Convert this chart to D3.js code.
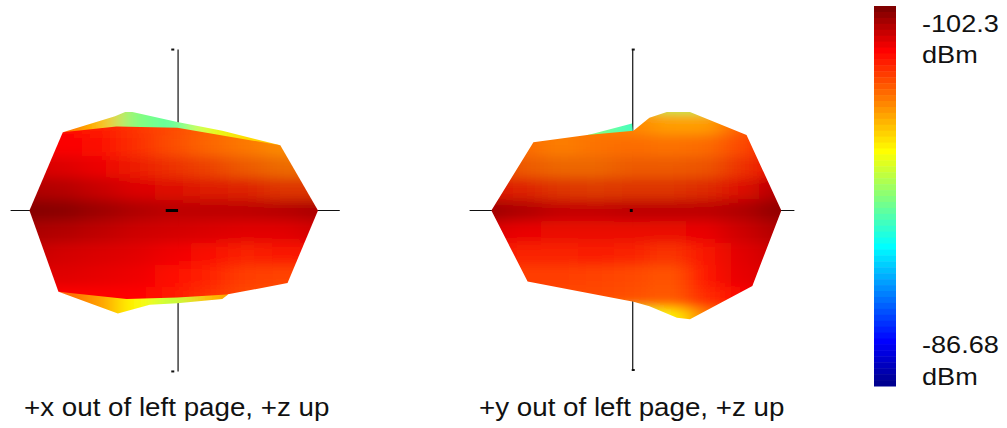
<!DOCTYPE html>
<meta charset="utf-8">
<style>
    html, body { margin: 0; background: #fff; }
    svg { display: block; }
    text { font-family: "Liberation Sans", Arial, sans-serif; fill: #111; }
    .axisline { stroke: #111; stroke-width: 1.2; }
</style>
<body>
<script src="https://d3js.org/d3.v7.min.js"></script>
<script>
    // grid positions of the surface samples, in plot units
    var gridU = [-100, -75, -50, -25, 0, 25, 50, 75, 100];
    var gridV = [75, 60, 45, 30, 15, 0, -15, -30, -45, -60, -75];
    var lobeU = [-75, -50, -25, 0, 25, 50, 75];

    // received power (dBm)
    var leftValues = [
        [-100.4, -100.4, -100.1, -99.7, -99.4, -99, -98.6, -98.3, -98.3],
        [-100.4, -100.4, -100.1, -99.7, -99.4, -99, -98.6, -98.3, -98.3],
        [-100.6, -100.6, -100.3, -99.8, -99.3, -98.9, -98.6, -98.3, -98.3],
        [-100.9, -100.8, -100.5, -100.1, -99.7, -99.4, -99, -98.7, -98.7],
        [-101.3, -101.2, -100.9, -100.6, -100.3, -100.1, -99.9, -99.6, -99.6],
        [-101.9, -101.8, -101.5, -101.2, -101, -101, -101, -101.1, -101.3],
        [-101.5, -101.4, -101.2, -101, -100.9, -100.8, -100.7, -100.7, -100.9],
        [-101.3, -101.1, -101, -100.9, -100.7, -100.4, -100, -100.2, -100.4],
        [-101, -101, -100.9, -100.8, -100.4, -100, -99.6, -99.5, -99.5],
        [-100.6, -100.6, -100.6, -100.5, -100.2, -99.8, -99.4, -99.3, -99.3],
        [-100.6, -100.6, -100.6, -100.5, -100.2, -99.8, -99.4, -99.3, -99.3]
    ];
    // same for the right view
    var rightValues = [
        [-99, -98.7, -98.5, -98.4, -97.8, -95, -95, -98.5, -100],
        [-99, -98.9, -98.6, -98.6, -98.4, -98, -98, -99, -100.2],
        [-99.1, -98.8, -98.5, -98.7, -98.8, -98.7, -98.8, -99.4, -100.3],
        [-99.4, -99, -98.8, -98.8, -99, -99, -99.1, -99.7, -100.6],
        [-100.2, -99.9, -99.6, -99.5, -99.6, -99.6, -99.8, -100.4, -101.2],
        [-101.5, -101.2, -100.9, -100.9, -101, -101, -101, -101.2, -101.7],
        [-100.8, -100.6, -100.3, -100.3, -100.4, -100.3, -100.6, -101, -101.4],
        [-100.3, -100, -100, -100.1, -100, -99.7, -100.2, -100.9, -101.2],
        [-99.8, -99.6, -99.6, -99.5, -99.4, -99.2, -100.2, -100.9, -101.1],
        [-99.7, -99.5, -99.4, -99.4, -99.3, -99.1, -99.9, -100.6, -101],
        [-99.7, -99.5, -99.4, -97, -95.5, -96.5, -98.5, -100.6, -101]
    ];
    // how dark the lighting makes each row of the surface
    var rowShade = [0, 0, 0.01, 0.07, 0.13, 0.15, 0.08, 0.02, 0, 0, 0];

    // outlines of the near surface
    var leftFront = [[-99, 0], [-76, 54], [-39, 58], [3, 57], [74, 45], [100, 0], [79, -50], [37, -58], [3, -60], [-32, -61], [-79, -56]];
    var rightFront = [[-97, 0], [-68, 47], [-31, 52], [1, 55], [12, 64], [24, 68], [40, 68], [79, 52], [103, 0], [83, -52], [40, -75], [31, -74], [12, -66], [1, -63], [-72, -49]];

    // far side lobes that stick out behind the near surface
    var leftTopLobe = [[-76, 54], [-40, 65], [-33, 68], [-28, 68], [3, 61], [34, 55], [74, 45], [0, 40]];
    var leftBottomLobe = [[-79, -56], [-38, -71], [-16, -65], [3, -64], [34, -61], [38, -58], [0, -40]];
    var rightTopLobe = [[-31, 52], [-27, 53], [0, 60], [1, 50]];
    var leftTopValues = [-99, -97.5, -94.5, -94, -96, -97, -97.5];
    var leftBottomValues = [-99, -98, -96.5, -95.5, -97.5, -98.5, -98.5];
    var rightTopValues = [-96, -95.5, -94.5, -93.5, -94, -95, -96];

    // axis stubs and the little marks at their ends
    var leftAxes = {xLine: [-112, 115], yLine: [-111, 111], yAt: 3.5, dots: [[-0.5, 111], [-0.5, -111]], hub: [-5, 3.5]};
    var rightAxes = {xLine: [-112, 112], yLine: [-110, 111], yAt: 0.5, dots: [[0.5, 111], [0.5, -110]], hub: [-1.5, 0.5]};

    var captions = ["+x out of left page, +z up", "+y out of left page, +z up"];
    var barLabels = ["-102.3", "dBm", "-86.68", "dBm"];
    var valueMin = -102.3, valueMax = -86.68;
    var jetStops = [0, 0.11, 0.375, 0.625, 0.875, 1];
    var jetColors = ["#800000", "#ff0000", "#ffff00", "#00ffff", "#0000ff", "#000080"];

    var width = 1007, height = 428;

    var color = d3.scaleLinear()
        .domain(jetStops.map(function(t) { return valueMin + t * (valueMax - valueMin); }))
        .range(jetColors)
        .clamp(true);

    var svg = d3.select("body").append("svg")
        .attr("width", width)
        .attr("height", height);

    var defs = svg.append("defs");
    var blur = defs.append("filter")
        .attr("id", "soft")
        .attr("filterUnits", "userSpaceOnUse")
        .attr("x", 0).attr("y", 0)
        .attr("width", width).attr("height", height);
    blur.append("feGaussianBlur").attr("stdDeviation", "13 6");

    var line = d3.line();

    function clipped(g, id, outline, x, y) {
        defs.append("clipPath").attr("id", id)
            .append("path")
            .attr("d", line.x(function(d) { return x(d[0]); }).y(function(d) { return y(d[1]); })(outline) + "Z");
        return g.append("g").attr("clip-path", "url(#" + id + ")")
            .append("g").attr("filter", "url(#soft)");
    }

    function drawPanel(name, cx, cy, front, values, lobes, axes) {
        var x = d3.scaleLinear().domain([-100, 100]).range([cx - 145, cx + 145]);
        var y = d3.scaleLinear().domain([-100, 100]).range([cy + 145, cy - 145]);
        var g = svg.append("g").attr("class", name);

        // axes go under the surface
        g.append("line").attr("class", "axisline")
            .attr("x1", x(axes.xLine[0])).attr("x2", x(axes.xLine[1]))
            .attr("y1", y(0)).attr("y2", y(0));
        g.append("line").attr("class", "axisline")
            .attr("x1", x(axes.yAt)).attr("x2", x(axes.yAt))
            .attr("y1", y(axes.yLine[1])).attr("y2", y(axes.yLine[0]));
        g.selectAll("rect.dot").data(axes.dots).join("rect")
            .attr("class", "dot")
            .attr("x", function(d) { return x(d[0]) - 1; })
            .attr("y", function(d) { return y(d[1]) - 1; })
            .attr("width", 3).attr("height", 2)
            .attr("fill", "#111");

        var uStep = 25, vStep = 15, over = 40;

        lobes.forEach(function(lobe, i) {
            var inner = clipped(g, name + "-lobe" + i, lobe.outline, x, y);
            inner.selectAll("rect").data(lobe.values).join("rect")
                .attr("x", function(d, j) { return x(lobeU[j] - uStep / 2); })
                .attr("width", x(uStep) - x(0) + 0.5)
                .attr("y", y(lobe.top))
                .attr("height", y(-over) - y(over))
                .attr("fill", function(d) { return color(d); });
        });

        var inner = clipped(g, name + "-front", front, x, y);
        var cells = [];
        values.forEach(function(row, r) {
            row.forEach(function(v, c) {
                cells.push({u: gridU[c], v: gridV[r], value: v, r: r, c: c});
            });
        });
        inner.selectAll("rect").data(cells).join("rect")
            .attr("x", function(d) { return x(d.u - uStep / 2 - (d.c === 0 ? over : 0)); })
            .attr("width", function(d) { return x(uStep + (d.c === 0 || d.c === 8 ? over : 0)) - x(0) + 0.5; })
            .attr("y", function(d) { return y(d.v + vStep / 2 + (d.r === 0 ? over : 0)); })
            .attr("height", function(d) { return y(0) - y(vStep + (d.r === 0 || d.r === 10 ? over : 0)) + 0.5; })
            .attr("fill", function(d) { return color(d.value); });

        // lighting band along the equator
        inner.append("g").selectAll("rect").data(rowShade).join("rect")
            .attr("x", x(-140))
            .attr("width", x(140) - x(-140))
            .attr("y", function(d, i) { return y(gridV[i] + vStep / 2); })
            .attr("height", y(0) - y(vStep))
            .attr("fill", "#000")
            .attr("fill-opacity", function(d) { return d; });

        // black hub in the middle
        g.append("line")
            .attr("x1", x(axes.hub[0])).attr("x2", x(axes.hub[1]))
            .attr("y1", y(0)).attr("y2", y(0))
            .attr("stroke", "#000").attr("stroke-width", 3);
    }

    drawPanel("left", 173, 210.5, leftFront, leftValues, [
        {outline: leftTopLobe, values: leftTopValues, top: 100},
        {outline: leftBottomLobe, values: leftBottomValues, top: -20}
    ], leftAxes);

    drawPanel("right", 632, 210.5, rightFront, rightValues, [
        {outline: rightTopLobe, values: rightTopValues, top: 100}
    ], rightAxes);

    svg.selectAll("text.caption").data(captions).join("text")
        .attr("class", "caption")
        .attr("font-size", 25)
        .attr("transform", function(d, i) { return "translate(" + [24, 479][i] + ",416) scale(1.11,1)"; })
        .text(function(d) { return d; });

    // colour bar, top is the low end
    var barY = d3.scaleLinear().domain([valueMin, valueMax]).range([6, 386]);
    var barSteps = d3.range(valueMin, valueMax, (valueMax - valueMin) / 64);
    svg.append("g").selectAll("rect").data(barSteps).join("rect")
        .attr("x", 874)
        .attr("width", 22)
        .attr("y", function(d) { return barY(d); })
        .attr("height", (386 - 6) / 64 + 0.5)
        .attr("fill", function(d) { return color(d); });

    svg.selectAll("text.bar").data(barLabels).join("text")
        .attr("class", "bar")
        .attr("font-size", 24)
        .attr("transform", function(d, i) { return "translate(922," + [32, 63, 353, 385][i] + ") scale(1.13,1)"; })
        .text(function(d) { return d; });
</script>
